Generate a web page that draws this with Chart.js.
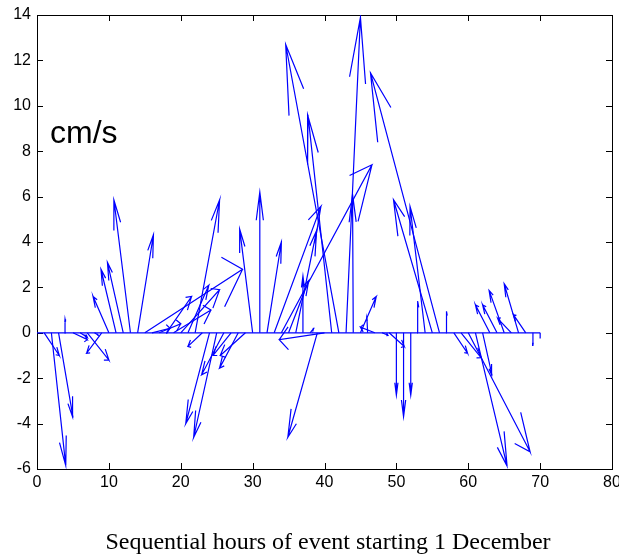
<!DOCTYPE html>
<html>
<head>
<meta charset="utf-8">
<script src="https://cdn.jsdelivr.net/npm/chart.js@4.4.1/dist/chart.umd.min.js"></script>
<style>
  html, body { margin: 0; padding: 0; background: #fff; }
  #grafico { display: block; }
</style>
</head>
<body>
<canvas id="grafico" width="619" height="556"></canvas>
<script>
//*************  Dados  **********************************/
// hora de cada vetor e componentes u (leste) e v (norte) em cm/s
const horas = [1,2,3,4,5,6,7,8,9,10,11,12,13,14,15,16,17,18,19,20,
               21,22,23,24,25,26,27,28,29,30,31,32,33,34,35,36,37,38,39,40,
               41,42,43,44,45,46,47,48,49,50,51,52,53,54,55,56,57,58,59,60,
               61,62,63,64,65,66,67,68,69,70]

const u = [2.1, 2.0, 2.0, -0.1, 2.0, 1.0, 3.0, 0.5, -2.1, -2.2,
           -2.1, -2.2, -2.3, 2.2, 13.6, 2.5, 3.0, 3.5, 5.2, 5.4,
           2.9, 3.4, -2.0, -3.3, -3.2, -3.1, -2.5, -2.6, -3.5, -1.8,
           0.0, 2.0, 6.5, 12.6, 2.8, 2.9, 0.0, 0.5, -4.1, -6.3,
           -3.3, -7.4, 2.0, -0.1, 2.2, -0.1, -2.0, 0.8, 2.1, 0.0,
           0.0, 0.0, 0.0, -2.1, -5.4, -9.6, 0.0, 1.9, 2.8, 8.6,
           4.4, 1.3, -2.0, -2.0, -2.1, -1.9, -2.0, -1.7, 0.0, 0.0]

const v = [-1.0, -5.85, -3.7, 0.6, -0.3, -0.2, -1.2, -0.1, -0.9, 1.6,
           2.8, 3.1, 5.86, 4.32, 2.8, 0.2, 0.4, 1.6, 1.0, 1.9,
           2.1, 5.85, -0.6, -4.0, -4.6, -1.85, -1.0, -1.56, -1.0, 4.57,
           6.2, 4.0, 5.57, 7.4, 2.3, 4.5, 2.5, 0.2, -4.6, -0.3,
           9.6, 12.7, 13.9, 6.1, 1.6, 0.65, 0.25, -0.1, -0.6, -2.75,
           -3.7, -2.75, 1.4, 5.57, 5.86, 11.45, 0.95, -0.9, -1.1, -5.24,
           -5.87, -1.85, 1.23, 1.23, 1.87, 0.63, 2.16, 0.79, -0.55, -0.25]

// marcas dos eixos
const ticksX = [0, 10, 20, 30, 40, 50, 60, 70, 80]
const ticksY = [-6, -4, -2, 0, 2, 4, 6, 8, 10, 12, 14]

const titulo = "Sequential hours of event starting 1 December"
const unidade = "cm/s"

const azul = "rgb(0,0,255)"


//*************  Construir setas (estilo feather do matlab)  ****************/
// haste de (t,0) ate (t+u, v) e duas farpas a 0.8 do comprimento
function seta(t, uu, vv){
    return [
        {x: t, y: 0},
        {x: t + uu, y: vv},
        {x: t + 0.8*uu - 0.08*vv, y: 0.8*vv + 0.08*uu},
        {x: t + uu, y: vv},
        {x: t + 0.8*uu + 0.08*vv, y: 0.8*vv - 0.08*uu}
    ]
}

let datasets = []

// linha de base
datasets.push({
    data: [{x: 0, y: 0}, {x: horas.length, y: 0}],
    showLine: true,
    borderColor: azul,
    borderWidth: 1.2,
    pointRadius: 0
})

for(let i = 0; i < horas.length; i++){
    datasets.push({
        data: seta(horas[i], u[i], v[i]),
        showLine: true,
        borderColor: azul,
        borderWidth: 1.2,
        pointRadius: 0
    })
}


//*************  Moldura, marcas para dentro e textos  ****************/
const moldura = {
    id: "moldura",
    beforeDatasetsDraw(chart){
        const ctx = chart.ctx
        const a = chart.chartArea
        const sx = chart.scales.x
        const sy = chart.scales.y
        ctx.save()
        ctx.strokeStyle = "#000"
        ctx.lineWidth = 1
        ctx.beginPath()
        ticksX.forEach(t => {
            let px = Math.round(sx.getPixelForValue(t)) + 0.5
            ctx.moveTo(px, a.bottom); ctx.lineTo(px, a.bottom - 6)
            ctx.moveTo(px, a.top); ctx.lineTo(px, a.top + 6)
        })
        ticksY.forEach(t => {
            let py = Math.round(sy.getPixelForValue(t)) + 0.5
            ctx.moveTo(a.left, py); ctx.lineTo(a.left + 6, py)
            ctx.moveTo(a.right, py); ctx.lineTo(a.right - 6, py)
        })
        ctx.stroke()
        ctx.strokeRect(Math.round(a.left) + 0.5, Math.round(a.top) + 0.5,
                       Math.round(a.right - a.left), Math.round(a.bottom - a.top))
        ctx.restore()
    },
    afterDraw(chart){
        const ctx = chart.ctx
        ctx.save()
        ctx.fillStyle = "#000"
        // unidade dentro do grafico
        ctx.font = "32px 'Liberation Sans', Arial, sans-serif"
        ctx.textBaseline = "alphabetic"
        ctx.textAlign = "left"
        ctx.fillText(unidade, 50, 143)
        // titulo em baixo
        ctx.font = "24px 'Liberation Serif', 'Times New Roman', serif"
        ctx.textAlign = "center"
        ctx.textBaseline = "middle"
        ctx.fillText(titulo, 328, 543)
        ctx.restore()
    }
}

const fonteEixo = {family: "'Liberation Sans', Arial, sans-serif", size: 16}

new Chart(document.getElementById("grafico"), {
    type: "scatter",
    data: {datasets: datasets},
    options: {
        responsive: false,
        animation: false,
        devicePixelRatio: 1,
        layout: {padding: {top: 15, right: 7, left: 0, bottom: 0}},
        plugins: {
            legend: {display: false},
            tooltip: {enabled: false}
        },
        elements: {line: {tension: 0}},
        scales: {
            x: {
                type: "linear",
                min: 0,
                max: 80,
                afterBuildTicks: s => { s.ticks = ticksX.map(t => ({value: t})) },
                afterFit: s => { s.height = 87; s.paddingRight = 0; s.paddingLeft = 0 },
                grid: {display: false, drawTicks: false},
                border: {display: false},
                ticks: {color: "#000", font: fonteEixo, padding: 4, maxRotation: 0}
            },
            y: {
                type: "linear",
                min: -6,
                max: 14,
                afterBuildTicks: s => { s.ticks = ticksY.map(t => ({value: t})) },
                afterFit: s => { s.width = 37; s.paddingTop = 0; s.paddingBottom = 0 },
                grid: {display: false, drawTicks: false},
                border: {display: false},
                ticks: {color: "#000", font: fonteEixo, padding: 6}
            }
        }
    },
    plugins: [moldura]
})
</script>
</body>
</html>
